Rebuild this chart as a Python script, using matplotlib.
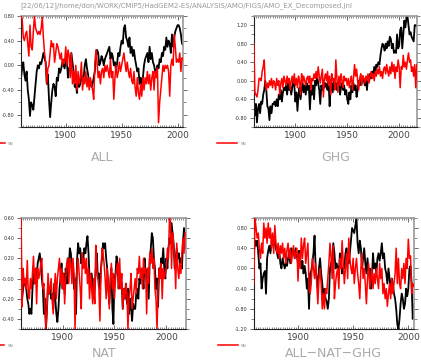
import numpy as np
import matplotlib
matplotlib.use('Agg')
import matplotlib.pyplot as plt

header = "[22/06/12]/home/don/WORK/CMIP5/HadGEM2-ES/ANALYSIS/AMO/FIGS/AMO_EX_Decomposed.jnl"
legend_label = "SN"

# ALL forcing, 1860-2005
all_black = [
    -0.20, -0.05, 0.05, -0.15, -0.25, -0.10, -0.40, -0.55, -0.82, -0.60,
    -0.65, -0.72, -0.50, -0.30, -0.10, 0.00, -0.05, 0.05, 0.02, 0.10,
    0.20, 0.12, 0.05, -0.30, -0.15, -0.55, -0.84, -0.60, -0.40, -0.30,
    -0.35, -0.50, -0.20, -0.25, -0.05, -0.12, -0.05, 0.05, 0.00, -0.05,
    0.10, 0.05, -0.20, -0.05, 0.00, 0.20, 0.05, -0.10, -0.35, -0.30,
    -0.45, -0.20, -0.35, -0.30, -0.15, -0.25, -0.20, 0.00, 0.10, -0.05,
    -0.15, -0.30, -0.25, -0.35, -0.30, -0.20, -0.10, 0.15, 0.25, 0.20,
    0.00, 0.05, 0.15, 0.10, 0.00, 0.10, 0.15, 0.20, 0.25, 0.30,
    0.10, 0.20, 0.15, 0.00, 0.05, -0.10, 0.05, 0.20, 0.15, 0.30,
    0.40, 0.35, 0.60, 0.65, 0.45, 0.40, 0.30, 0.45, 0.20, 0.30,
    0.15, 0.25, 0.10, 0.00, -0.10, -0.05, -0.30, -0.20, -0.40, -0.20,
    0.00, 0.10, 0.15, 0.20, 0.05, 0.30, 0.10, 0.20, 0.05, 0.00,
    -0.10, -0.10, 0.00, -0.05, 0.10, 0.05, 0.20, 0.15, 0.30, 0.25,
    0.45, 0.30, 0.40, 0.35, 0.20, 0.50, 0.30, 0.45, 0.55, 0.60,
    0.65, 0.65, 0.60, 0.50, 0.35, 0.33]
all_red = [
    0.80, 0.75, 0.45, 0.40, 0.50, 0.55, 0.35, 0.15, 0.65, 0.30,
    0.25, 0.55, 0.80, 0.60, 0.55, 0.50, 0.55, 0.50, 0.60, 0.78,
    0.45, 0.20, 0.05, -0.30, -0.05, 0.00, 0.20, 0.40, 0.30, 0.35,
    0.05, 0.20, 0.35, 0.30, 0.20, 0.10, 0.20, 0.00, 0.10, 0.05,
    0.30, 0.00, 0.25, 0.15, -0.20, 0.20, -0.30, -0.10, -0.30, 0.00,
    -0.40, -0.10, -0.30, -0.20, 0.05, -0.40, -0.20, -0.30, -0.10, -0.35,
    -0.20, -0.40, -0.20, -0.30, -0.40, -0.55, 0.00, 0.25, 0.05, -0.20,
    -0.10, -0.30, -0.10, -0.05, -0.20, 0.00, -0.10, 0.00, -0.10, -0.20,
    0.10, -0.20, -0.10, -0.55, -0.20, 0.00, -0.20, -0.10, 0.05, -0.10,
    0.00, 0.10, 0.20, 0.05, -0.10, 0.05, -0.10, -0.20, -0.05, -0.25,
    -0.30, -0.10, -0.35, -0.50, -0.20, -0.45, -0.55, -0.30, -0.50, -0.20,
    -0.40, -0.20, -0.30, -0.10, -0.30, -0.15, -0.40, -0.20, -0.10, -0.40,
    -0.10, -0.20, -0.05, -0.93, -0.60, -0.40, -0.20, 0.00, -0.10, 0.00,
    -0.05, 0.00, -0.10, -0.50, 0.00, 0.10, 0.00, 0.50, 0.30, 0.05,
    0.10, 0.05, 0.20, -0.10, 0.12, 0.10]

# GHG forcing, 1860-2017
ghg_black = [
    -0.55, -0.75, -0.50, -0.90, -0.60, -0.50, -0.70, -0.45, -0.50, -0.30,
    -0.20, 0.00, -0.20, -0.55, -0.60, -0.85, -0.55, -0.70, -0.50, -0.50,
    -0.45, -0.55, -0.40, -0.55, -0.30, -0.40, -0.20, -0.45, -0.25, -0.15,
    -0.20, -0.10, -0.30, -0.05, -0.20, -0.10, -0.30, -0.15, 0.00, -0.10,
    -0.45, -0.25, -0.65, -0.30, -0.15, -0.40, -0.20, -0.05, -0.25, -0.10,
    -0.30, -0.05, -0.20, -0.10, -0.62, -0.20, -0.30, -0.10, -0.40, 0.00,
    -0.10, 0.10, -0.05, -0.20, -0.50, -0.10, -0.20, 0.00, -0.15, -0.05,
    -0.10, -0.20, 0.00, -0.55, -0.15, -0.05, -0.25, 0.00, -0.10, -0.05,
    -0.20, -0.10, 0.00, -0.30, -0.15, -0.05, -0.20, -0.10, -0.30, -0.20,
    -0.40, -0.50, -0.25, -0.40, -0.10, -0.25, -0.05, -0.20, -0.10, -0.35,
    -0.20, 0.00, -0.10, 0.05, -0.05, 0.10, 0.00, -0.10, 0.05, -0.20,
    0.10, 0.00, 0.15, 0.05, 0.20, 0.10, 0.30, 0.15, 0.35, 0.30,
    0.40, 0.35, 0.55, 0.70, 0.80, 0.75, 0.65, 0.80, 0.70, 0.85,
    0.75, 0.95, 0.90, 0.70, 0.80, 0.60, 0.65, 0.60, 1.00, 0.70,
    0.75, 1.10, 1.15, 0.70, 1.00, 1.30, 1.15, 1.35, 1.40, 1.20,
    1.00, 1.05, 0.95, 0.90, 0.85, 1.20, 1.20, 1.18]
ghg_red = [
    0.80, -0.25, -0.30, -0.35, -0.20, 0.05, 0.05, 0.00, 0.20, 0.30,
    0.45, -0.10, -0.20, -0.05, -0.15, 0.00, -0.10, 0.05, -0.15, 0.00,
    -0.05, -0.20, 0.05, -0.10, 0.00, -0.30, -0.05, 0.05, -0.15, 0.10,
    0.00, -0.10, 0.10, -0.05, 0.05, -0.20, 0.00, 0.10, -0.05, 0.15,
    -0.10, 0.05, -0.15, 0.10, 0.00, -0.30, 0.15, -0.05, 0.10, 0.00,
    -0.10, 0.05, 0.10, -0.05, 0.10, -0.20, 0.05, 0.00, 0.15, 0.05,
    0.20, 0.05, 0.30, 0.10, -0.05, 0.10, 0.25, -0.35, 0.05, 0.15,
    0.00, 0.20, -0.10, 0.10, -0.30, 0.15, 0.00, 0.05, -0.20, 0.45,
    0.05, -0.25, 0.10, -0.10, 0.15, 0.00, -0.15, 0.10, 0.00, 0.05,
    -0.10, 0.05, -0.15, 0.00, 0.10, -0.20, 0.05, 0.35, 0.10, 0.25,
    0.00, -0.20, 0.05, 0.15, -0.10, 0.10, 0.05, -0.05, 0.10, 0.00,
    0.15, -0.05, 0.10, 0.20, 0.05, 0.15, 0.00, 0.20, 0.10, 0.25,
    0.15, 0.30, 0.10, 0.20, 0.05, 0.25, 0.30, 0.15, 0.35, 0.20,
    0.10, 0.30, 0.15, 0.40, 0.20, 0.35, 0.05, 0.30, 0.20, 0.45,
    0.30, -0.15, 0.30, 0.25, 0.55, 0.30, 0.40, 0.25, 0.45, 0.60,
    0.40, 0.45, 0.20, 0.30, 0.10, 0.35, -0.15, 0.35]

# NAT forcing, 1860-2018
nat_black = [
    -0.15, -0.20, -0.10, -0.05, 0.00, -0.10, -0.20, -0.25, -0.35, -0.30,
    -0.35, -0.10, 0.05, -0.05, 0.10, 0.00, 0.15, 0.20, 0.25, 0.15,
    0.00, -0.10, -0.35, -0.20, -0.50, -0.30, -0.05, -0.15, -0.10, -0.20,
    -0.15, -0.30, -0.05, -0.20, -0.35, -0.43, -0.30, -0.10, 0.00, 0.15,
    -0.10, 0.05, -0.15, 0.10, -0.05, 0.20, 0.10, 0.30, 0.25, 0.10,
    0.15, -0.10, 0.00, -0.35, 0.20, 0.35, 0.25, 0.30, 0.15, 0.25,
    0.20, 0.30, 0.25, 0.35, 0.42, 0.25, 0.00, -0.05, 0.05, -0.05,
    -0.20, -0.10, 0.10, 0.25, 0.00, 0.05, -0.10, 0.10, 0.20, 0.35,
    0.30, 0.35, 0.20, 0.10, -0.10, -0.25, -0.05, 0.10, -0.30, -0.45,
    0.00, 0.05, 0.22, 0.15, -0.10, 0.05, 0.00, -0.05, -0.30, -0.10,
    -0.20, -0.05, -0.25, -0.10, -0.35, -0.20, -0.30, -0.42, -0.25, -0.30,
    -0.30, -0.15, -0.10, -0.20, 0.00, -0.05, 0.10, 0.05, -0.10, 0.20,
    0.05, 0.00, 0.10, -0.20, 0.20, 0.30, 0.45, 0.40, 0.20, 0.10,
    -0.10, 0.00, -0.28, 0.10, 0.05, 0.20, 0.15, 0.30, 0.10, 0.00,
    0.20, 0.10, 0.30, 0.40, 0.35, 0.55, 0.45, 0.35, 0.10, 0.20,
    0.30, 0.20, 0.25, 0.15, 0.20, 0.10, 0.35, 0.50, 0.30]
nat_red = [
    0.60, -0.28, 0.10, -0.05, 0.00, -0.10, 0.18, -0.15, -0.20, 0.00,
    -0.10, 0.05, 0.22, -0.05, 0.10, -0.25, 0.10, 0.00, 0.05, 0.15,
    0.20, -0.10, -0.05, -0.30, -0.50, -0.30, 0.05, -0.15, -0.10, 0.00,
    -0.20, -0.35, -0.10, 0.05, -0.20, 0.00, 0.10, 0.20, -0.05, 0.10,
    -0.10, 0.05, -0.25, 0.00, 0.15, 0.20, -0.05, 0.20, 0.15, -0.05,
    0.20, 0.05, -0.50, 0.00, 0.10, 0.20, 0.05, -0.10, -0.30, 0.25,
    0.10, 0.20, 0.05, 0.20, -0.05, 0.10, -0.20, 0.05, -0.10, -0.25,
    0.00, -0.25, 0.33, 0.10, 0.00, -0.10, -0.42, 0.05, 0.30, 0.25,
    0.15, 0.00, -0.20, 0.10, -0.05, -0.30, 0.00, 0.15, -0.10, 0.05,
    -0.20, 0.00, 0.10, 0.15, -0.10, 0.20, -0.10, 0.05, -0.30, -0.10,
    -0.20, -0.05, -0.15, -0.50, -0.20, -0.10, 0.05, -0.30, -0.20, -0.10,
    0.00, -0.15, 0.10, 0.05, 0.22, 0.00, 0.10, -0.10, 0.20, 0.05,
    0.10, -0.35, 0.10, -0.05, 0.25, 0.15, 0.30, 0.10, 0.20, -0.10,
    -0.20, -0.50, -0.10, 0.10, 0.00, 0.15, -0.20, 0.10, 0.00, 0.05,
    0.10, 0.30, 0.20, 0.60, 0.55, 0.10, 0.45, 0.30, 0.20, -0.10,
    0.35, 0.10, 0.00, 0.15, 0.05, 0.25, 0.40, 0.25, 0.45]

# ALL-NAT-GHG residual, 1860-2005
aa_black = [
    0.30, 0.55, 0.45, 0.55, 0.30, 0.00, 0.10, -0.40, -0.20, -0.10,
    -0.05, -0.50, 0.20, 0.35, 0.45, 0.30, 0.50, 0.65, 0.45, 0.55,
    0.40, 0.30, 0.20, 0.35, 0.10, 0.00, 0.20, 0.10, 0.00, 0.10,
    0.05, 0.20, 0.30, 0.10, 0.40, 0.30, 0.35, 0.20, 0.40, 0.25,
    0.10, 0.35, 0.20, 0.00, 0.15, -0.10, 0.05, -0.10, -0.40, -0.20,
    -0.80, -0.10, -0.05, 0.10, 0.30, 0.65, 0.00, -0.20, -0.40, 0.00,
    0.20, -0.10, -0.30, -0.60, -0.40, -0.60, -0.65, -0.80, -0.60, 0.00,
    0.10, 0.20, 0.50, 0.30, 0.00, 0.10, 0.00, -0.10, 0.30, 0.20,
    -0.10, 0.00, 0.00, 0.30, 0.40, 0.15, 0.10, 0.30, 0.55, 0.80,
    0.75, 0.70, 0.85, 1.00, 0.50, 0.30, 0.55, 0.40, 0.00, 0.20,
    0.40, 0.10, -0.10, 0.20, -0.10, 0.00, -0.40, -0.20, 0.30, 0.00,
    0.10, -0.10, 0.20, 0.30, 0.15, 0.30, 0.50, 0.20, 0.30, 0.00,
    -0.10, -0.30, 0.00, -0.20, -0.50, -0.20, -0.30, -0.50, -0.60, -0.80,
    -1.10, -1.20, -1.00, -0.70, -0.50, -0.60, -0.80, -0.70, -0.40, -0.55,
    -0.40, 0.00, 0.05, -0.30, -1.00, -0.70]
aa_red = [
    -0.30, 1.00, 0.80, 0.60, 0.70, 0.40, 0.20, 0.50, 0.30, 0.90,
    0.60, 0.80, 0.50, 0.90, 0.60, 0.80, 0.40, 0.70, 0.30, 0.85,
    0.50, 0.30, 0.50, 0.20, 0.45, 0.30, 0.50, 0.20, 0.40, 0.10,
    0.35, 0.50, 0.20, 0.40, 0.10, 0.30, 0.45, 0.20, 0.30, 0.40,
    -0.25, 0.30, 0.00, 0.60, 0.20, 0.45, 0.60, 0.10, 0.30, 0.50,
    -0.40, -0.50, -0.30, 0.20, 0.00, -0.20, 0.10, -0.30, -0.70, -0.20,
    0.00, -0.30, -0.80, -0.50, -0.80, -0.40, -0.50, -0.20, 0.10, 0.50,
    0.20, -0.20, 0.45, -0.60, -0.30, -0.10, 0.00, -0.40, 0.20, 0.00,
    0.55, 0.10, -0.30, 0.00, 0.30, -0.20, 0.60, 0.20, 0.00, -0.10,
    0.20, -0.30, 0.00, 0.20, -0.10, -0.30, -0.60, 0.00, 0.30, -0.20,
    0.00, -0.30, -0.70, -0.20, 0.10, -0.40, -0.20, 0.00, -0.40, -0.10,
    -0.30, 0.00, -0.20, -0.40, 0.10, -0.20, 0.00, -0.50, -0.30, -0.60,
    -0.40, -0.75, -0.50, -0.30, -0.60, -0.20, -0.50, -0.30, -0.10, 0.40,
    -0.30, 0.20, -0.30, -0.40, 0.00, -0.20, 0.10, -0.30, 0.20, 0.00,
    0.58, 0.20, 0.25, -0.50, -0.30, -0.35]

panels = [
    # title, black, red, axes rect, xlim, ylim, y major step, title y
    ("ALL", all_black, all_red, [0.050, 0.649, 0.385, 0.307], (1860, 2005), (-1.0, 0.8), 0.4, -0.27),
    ("GHG", ghg_black, ghg_red, [0.603, 0.649, 0.387, 0.307], (1860, 2017), (-1.0, 1.4), 0.4, -0.27),
    ("NAT", nat_black, nat_red, [0.050, 0.091, 0.392, 0.307], (1860, 2019), (-0.5, 0.6), 0.2, -0.22),
    ("ALL\u2212NAT\u2212GHG", aa_black, aa_red, [0.603, 0.091, 0.380, 0.307], (1860, 2005), (-1.2, 1.0), 0.4, -0.22),
]

fig = plt.figure(figsize=(4.21, 3.62), dpi=100)
fig.text(0.442, 0.995, header, ha='center', va='top', fontsize=5, color='#999999')

for title, black, red, rect, xlim, ylim, ystep, ty in panels:
    ax = fig.add_axes(rect)
    years = np.arange(xlim[0], xlim[0] + len(black))
    ax.plot(years, black, color='black', lw=1.3, zorder=2)
    ax.plot(years, red, color='#ff0000', lw=1.1, zorder=3, label=legend_label)
    ax.set_xlim(xlim)
    ax.set_ylim(ylim)
    ax.set_xticks([1900, 1950, 2000])
    ax.set_xticks(np.arange(1860, xlim[1] + 1, 2), minor=True)
    yt = np.arange(-1.2, 1.41, ystep)
    yt = yt[(yt >= ylim[0] - 1e-6) & (yt <= ylim[1] + 1e-6)]
    ax.set_yticks(yt)
    ax.set_yticklabels(['%.2f' % v for v in yt])
    ym = np.arange(-1.2, 1.41, ystep / 2)
    ax.set_yticks(ym[(ym >= ylim[0] - 1e-6) & (ym <= ylim[1] + 1e-6)], minor=True)
    ax.tick_params(axis='x', which='both', direction='in', top=True, bottom=True,
                   labelsize=6.5, labelcolor='#444444', pad=3, color='#555555')
    ax.tick_params(axis='x', which='major', length=3, width=0.6)
    ax.tick_params(axis='x', which='minor', length=1.5, width=0.5)
    ax.tick_params(axis='y', which='both', direction='out', left=True, right=True,
                   labelsize=3.5, labelcolor='#333333', pad=1.5, color='#555555')
    ax.tick_params(axis='y', which='major', length=3, width=0.6)
    ax.tick_params(axis='y', which='minor', length=2, width=0.5)
    for side in ['left', 'bottom']:
        ax.spines[side].set_color('#222222')
        ax.spines[side].set_linewidth(0.8)
    for side in ['top', 'right']:
        ax.spines[side].set_color('#999999')
        ax.spines[side].set_linewidth(1.2)
    ax.text(0.5, ty, title, transform=ax.transAxes, ha='center', va='center',
            fontsize=9, color='#aaaaaa')
    ax.legend(loc='center left', bbox_to_anchor=(-0.225, -0.15), frameon=False,
              fontsize=3, handlelength=4.8, handletextpad=0.8, borderaxespad=0,
              borderpad=0, labelcolor='#888888')

fig.savefig('out.png', dpi=100)
